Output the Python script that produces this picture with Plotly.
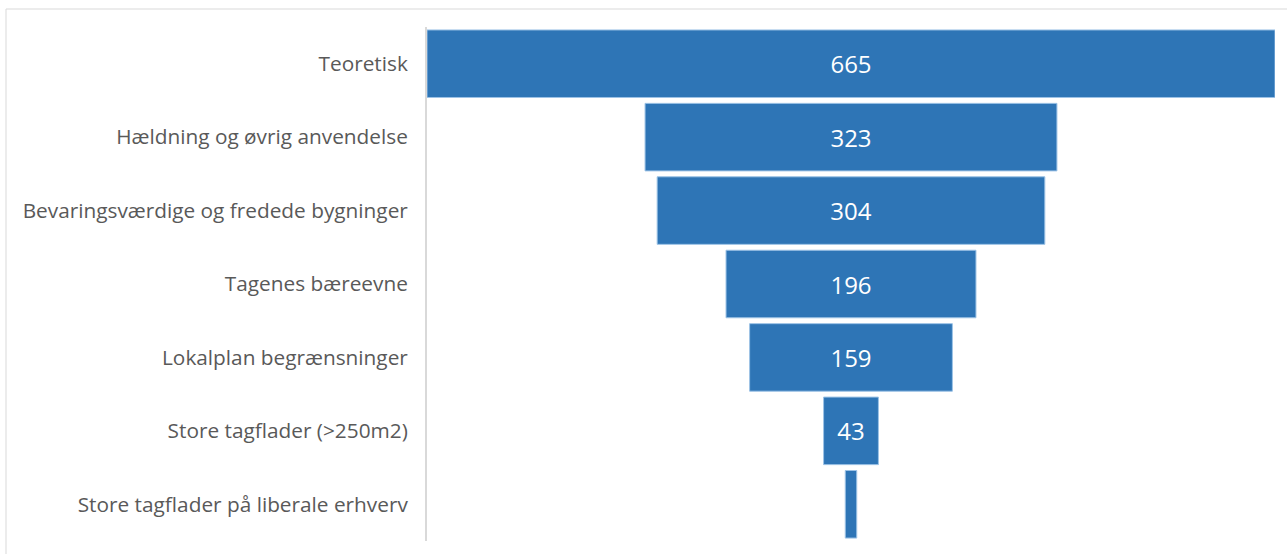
import plotly.graph_objects as go

categories = [
    "Teoretisk",
    "Hældning og øvrig anvendelse",
    "Bevaringsværdige og fredede bygninger",
    "Tagenes bæreevne",
    "Lokalplan begrænsninger",
    "Store tagflader (>250m2)",
    "Store tagflader på liberale erhverv",
]
values = [665, 323, 304, 196, 159, 43, 9]

W, H = 1287, 554
ml, mr, mt, mb = 427, 12, 27, 13
pw, ph = W - ml - mr, H - mt - mb

fig = go.Figure(go.Funnel(
    y=categories,
    x=values,
    textinfo="value",
    textposition="inside",
    insidetextfont=dict(color="white", size=24, family="Open Sans"),
    marker=dict(color="#2E75B6", line=dict(color="#9DC3E6", width=1)),
    connector=dict(visible=False),
))

def px_x(x):
    return (x - ml) / pw

def px_y(y):
    return (H - mb - y) / ph

fig.update_layout(
    width=W, height=H,
    margin=dict(l=ml, r=mr, t=mt, b=mb),
    paper_bgcolor="white", plot_bgcolor="white",
    showlegend=False,
    funnelgap=0.08,
    uniformtext=dict(minsize=22, mode="hide"),
    font=dict(family="Open Sans", color="#595959"),
    xaxis=dict(range=[-max(values) / 2, max(values) / 2], visible=False, fixedrange=True),
    yaxis=dict(showline=True, linecolor="#D9D9D9", linewidth=2, ticks="",
               tickfont=dict(size=20.8, color="#595959"), ticklabelstandoff=13,
               showgrid=False),
    shapes=[
        dict(type="line", xref="paper", yref="paper", x0=px_x(6), x1=px_x(1295),
             y0=px_y(9), y1=px_y(9), line=dict(color="#D9D9D9", width=1)),
        dict(type="line", xref="paper", yref="paper", x0=px_x(6), x1=px_x(6),
             y0=px_y(9), y1=px_y(570), line=dict(color="#D9D9D9", width=1)),
    ],
)

fig.write_html("out.html")
